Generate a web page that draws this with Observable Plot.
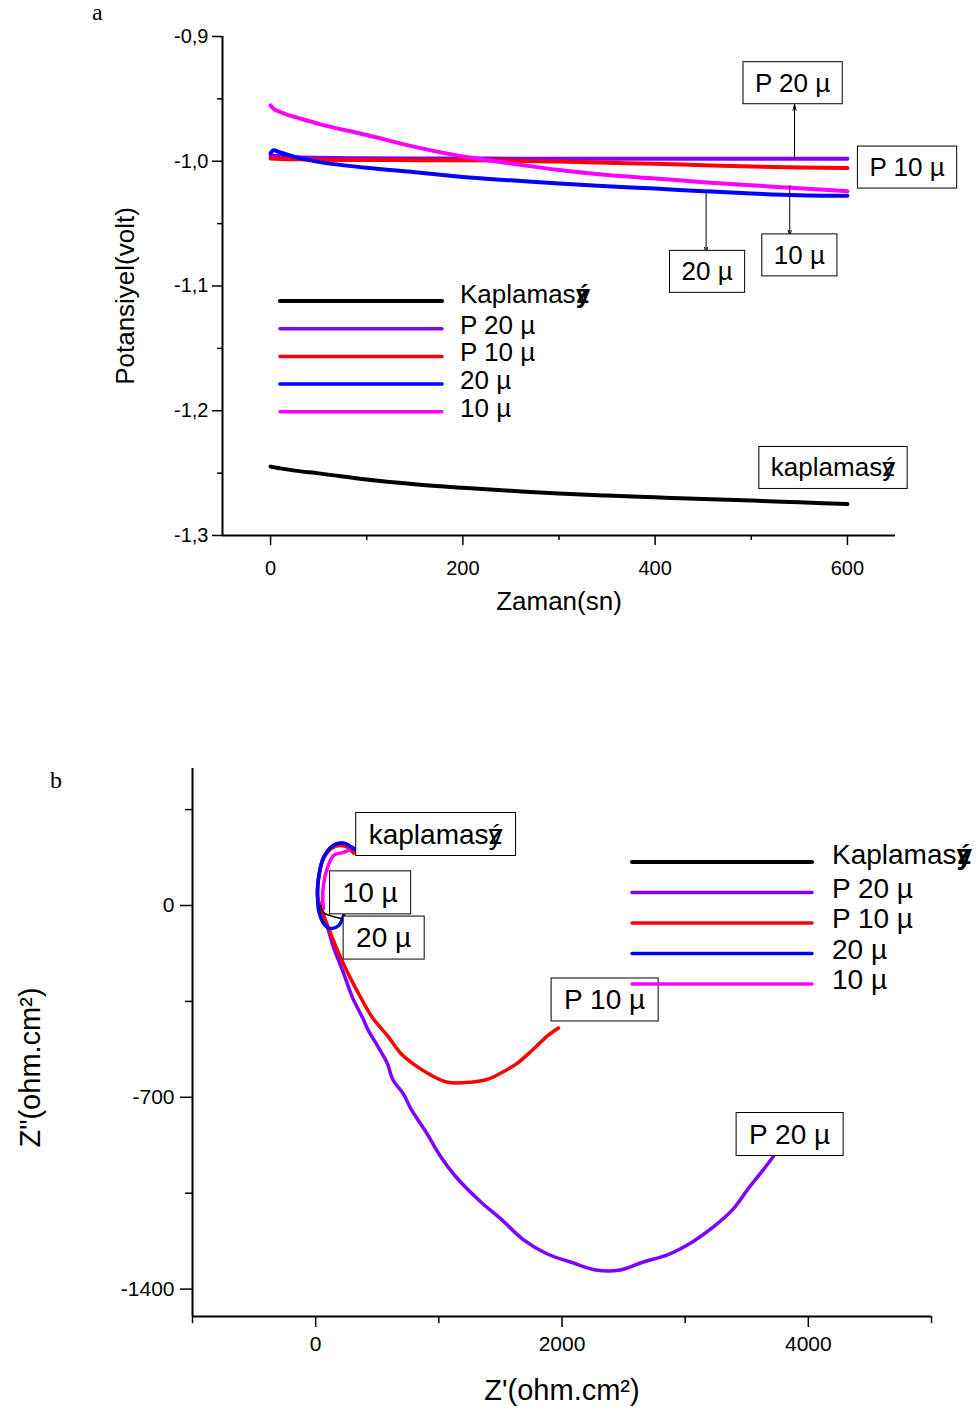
<!DOCTYPE html>
<html><head><meta charset="utf-8">
<script src="https://cdn.jsdelivr.net/npm/d3@7"></script>
<script src="https://cdn.jsdelivr.net/npm/@observablehq/plot@0.6"></script>
<style>
html,body{margin:0;padding:0;background:#fff;overflow:hidden;}
#wrap{position:relative;width:980px;height:1409px;overflow:hidden;background:#fff;}
#wrap svg{position:absolute;left:0;}
</style></head><body><div id="wrap"></div>
<script>
const FONT = "'Liberation Sans', Arial, Helvetica, sans-serif";

// ---------- Panel a: open-circuit potential vs time ----------
const tSec = [0, 3, 10, 25, 50, 100, 150, 200, 250, 300, 350, 400, 450, 500, 550, 600];
const potKaplamasiz = [-1.2448, -1.2452, -1.2462, -1.2480, -1.2502, -1.2552, -1.2590, -1.2618, -1.2642, -1.2664, -1.2680, -1.2694, -1.2708, -1.2720, -1.2734, -1.2748];
const potP20 = [-0.9955, -0.9955, -0.9960, -0.9968, -0.9972, -0.9976, -0.9978, -0.9978, -0.9979, -0.9979, -0.9979, -0.9980, -0.9980, -0.9980, -0.9980, -0.9980];
const potP10 = [-0.9978, -0.9979, -0.9981, -0.9984, -0.9988, -0.9990, -0.9991, -0.9992, -0.9995, -1.0003, -1.0012, -1.0020, -1.0032, -1.0042, -1.0050, -1.0055];
const pot20 = [-0.9935, -0.9912, -0.9930, -0.9965, -1.0005, -1.0052, -1.0088, -1.0126, -1.0153, -1.0179, -1.0200, -1.0219, -1.0240, -1.0259, -1.0272, -1.0277];
const pot10 = [-0.9552, -0.9578, -0.9605, -0.9645, -0.9700, -0.9790, -0.9885, -0.9962, -1.0018, -1.0070, -1.0110, -1.0138, -1.0168, -1.0193, -1.0216, -1.0240];

const xTicksA = [0, 200, 400, 600];
const xMinorA = [100, 300, 500];
const yTicksA = [-0.9, -1.0, -1.1, -1.2, -1.3];
const yMinorA = [-0.95, -1.05, -1.15, -1.25];

const annLabelsA = ["P 20 µ", "P 10 µ", "20 µ", "10 µ", "kaplamasý"];
const annTA = [543, 662, 454, 550, 585];
const annVA = [-0.9376, -1.0052, -1.0888, -1.0756, -1.246];
const arrowT = [545, 453, 540];
const arrowFrom = [-0.9980, -1.0246, -1.0195];
const arrowTo = [-0.9545, -1.0736, -1.0600];

// ---------- Panel b: Nyquist ----------
const zreP20 = [308, 227, 146, 65, 24, 16, 41, 97, 146, 219, 300, 381, 422, 527, 584, 625, 714, 771, 892, 1014, 1136, 1339, 1501, 1688, 1882, 2069, 2272, 2475, 2661, 2856, 3059, 3221, 3391, 3513, 3635, 3716];
const zimP20 = [209, 227, 220, 176, 103, 29, -7, -81, -154, -238, -337, -410, -451, -531, -579, -634, -689, -740, -824, -916, -989, -1081, -1143, -1220, -1272, -1301, -1330, -1330, -1301, -1275, -1228, -1176, -1107, -1033, -964, -916];
const zreP10 = [308, 243, 146, 65, 24, 16, 57, 122, 203, 284, 349, 462, 584, 690, 795, 909, 1071, 1258, 1396, 1501, 1639, 1769, 1882, 1972];
const zimP10 = [191, 216, 213, 172, 99, 29, -26, -103, -191, -267, -322, -410, -476, -539, -579, -612, -645, -645, -634, -612, -575, -524, -476, -447];
const zre20 = [325, 227, 146, 65, 24, 16, 24, 65, 122, 187, 227];
const zim20 = [202, 227, 220, 176, 103, 29, -18, -66, -84, -73, -37];
const zre10 = [268, 227, 146, 97, 65, 57, 65];
const zim10 = [202, 194, 183, 139, 81, 18, -11];
const zreKap = [41, 65, 140, 219];
const zimKap = [0, -26, -40, -48];

const xTicksB = [0, 2000, 4000];
const xMinorB = [-1000, 1000, 3000, 5000];
const yTicksB = [0, -700, -1400];
const yMinorB = [350, -350, -1050];

const annLabelsB = ["kaplamasý", "10 µ", "20 µ", "P 10 µ", "P 20 µ"];
const annXB = [974, 442, 552, 2346, 3848];
const annYB = [259, 46, -119, -345, -836];

// ---------- legend ----------
const seriesNames = ["Kaplamasý", "P 20 µ", "P 10 µ", "20 µ", "10 µ"];
const seriesColors = ["#000000", "#7f00ff", "#ff0000", "#0000ff", "#ff00ff"];

// build tables
const potSeries = [potKaplamasiz, potP20, potP10, pot20, pot10];
const rowsA = potSeries.map(vs => tSec.map((t, i) => ({t, v: vs[i]})));
const nyq = [[zreKap, zimKap], [zreP20, zimP20], [zreP10, zimP10], [zre20, zim20], [zre10, zim10]];
const rowsB = nyq.map(([xs, ys]) => xs.map((x, i) => ({x, y: ys[i]})));
const annA = annLabelsA.map((label, i) => ({label, t: annTA[i], v: annVA[i]}));
const arrA = arrowT.map((t, i) => ({t, v1: arrowFrom[i], v2: arrowTo[i]}));
const annB = annLabelsB.map((label, i) => ({label, x: annXB[i], y: annYB[i]}));

const wrap = document.getElementById("wrap");

function boxTexts(svg, padX, padY) {
  svg.querySelectorAll('g[aria-description="boxed"] text').forEach(t => {
    const b = t.getBBox();
    const r = document.createElementNS("http://www.w3.org/2000/svg", "rect");
    r.setAttribute("x", b.x - padX);
    r.setAttribute("y", b.y - padY);
    r.setAttribute("width", b.width + 2 * padX);
    r.setAttribute("height", b.height + 2 * padY);
    const tr = t.getAttribute("transform");
    if (tr) r.setAttribute("transform", tr);
    r.setAttribute("fill", "#fff");
    r.setAttribute("stroke", "#000");
    r.setAttribute("stroke-width", "1");
    t.parentNode.insertBefore(r, t);
    if (t.textContent.endsWith("ý")) {
      const sp = document.createElementNS("http://www.w3.org/2000/svg", "tspan");
      sp.setAttribute("dx", "-0.5em");
      sp.textContent = "z";
      t.appendChild(sp);
    }
  });
}

// draw order for panel a: black, purple, red, blue, magenta
const linesA = [0, 1, 2, 3, 4].map(i => Plot.line(rowsA[i], {x: "t", y: "v", stroke: seriesColors[i], strokeWidth: 4, curve: "monotone-x"}));

const plotA = Plot.plot({
  width: 980, height: 650,
  marginLeft: 222, marginRight: 85, marginTop: 36, marginBottom: 115,
  x: {domain: [-50, 650], label: null},
  y: {domain: [-1.3, -0.9], label: null},
  style: {fontFamily: FONT, color: "#000", background: "transparent", overflow: "visible"},
  marks: [
    Plot.axisX({ticks: xTicksA, tickSize: 10, tickPadding: 15, fontSize: 20, strokeWidth: 1.5, label: null, tickFormat: d => String(d)}),
    Plot.axisX({ticks: xMinorA, tickSize: 5, tickFormat: () => "", strokeWidth: 1.5, label: null}),
    Plot.axisY({ticks: yTicksA, tickSize: 10, tickPadding: 4, fontSize: 20, strokeWidth: 1.5, label: null,
      tickFormat: d => d.toFixed(1).replace(".", ",")}),
    Plot.axisY({ticks: yMinorA, tickSize: 5, tickFormat: () => "", strokeWidth: 1.5, label: null}),
    Plot.ruleX([-50], {strokeWidth: 2}),
    Plot.ruleY([-1.3], {strokeWidth: 2}),
    ...linesA,
    Plot.arrow(arrA, {x1: "t", x2: "t", y1: "v1", y2: "v2", stroke: "#000", strokeWidth: 1, headLength: 9, headAngle: 30}),
    Plot.text(annA, {x: "t", y: "v", text: "label", fontSize: 26, fill: "#000", ariaDescription: "boxed"}),
    Plot.text(["Zaman(sn)"], {text: d => d, frameAnchor: "bottom", textAnchor: "middle", dy: 74, fontSize: 26}),
    Plot.text(["Potansiyel(volt)"], {text: d => d, frameAnchor: "left", textAnchor: "middle", rotate: -90, dx: -97, dy: 10, fontSize: 26})
  ]
});
plotA.style.top = "0px";
wrap.appendChild(plotA);
boxTexts(plotA, 12, 6);

// draw order for panel b: purple, red, blue, magenta, black
const linesB = [1, 2, 3, 4, 0].map(i => Plot.line(rowsB[i], {x: "x", y: "y", stroke: seriesColors[i], strokeWidth: i === 0 ? 1.5 : 3.5, curve: "catmull-rom"}));

const plotB = Plot.plot({
  width: 980, height: 759,
  marginLeft: 192, marginRight: 49, marginTop: 118, marginBottom: 93,
  x: {domain: [-1000, 5000], label: null},
  y: {domain: [-1500, 500], label: null},
  style: {fontFamily: FONT, color: "#000", background: "transparent", overflow: "visible"},
  marks: [
    Plot.axisX({ticks: xTicksB, tickSize: 11, tickPadding: 9, fontSize: 21, strokeWidth: 1.5, label: null, tickFormat: d => String(d)}),
    Plot.axisX({ticks: xMinorB, tickSize: 7, tickFormat: () => "", strokeWidth: 1.5, label: null}),
    Plot.axisY({ticks: yTicksB, tickSize: 12, tickPadding: 6, fontSize: 21, strokeWidth: 1.5, label: null, tickFormat: d => String(d)}),
    Plot.axisY({ticks: yMinorB, tickSize: 7, tickFormat: () => "", strokeWidth: 1.5, label: null}),
    Plot.ruleX([-1000], {strokeWidth: 2}),
    Plot.ruleY([-1500], {strokeWidth: 2}),
    ...linesB,
    Plot.text(annB, {x: "x", y: "y", text: "label", fontSize: 28, fill: "#000", ariaDescription: "boxed"}),
    Plot.text(["Z'(ohm.cm²)"], {text: d => d, frameAnchor: "bottom", textAnchor: "middle", dy: 83, fontSize: 29}),
    Plot.text(["Z\"(ohm.cm²)"], {text: d => d, frameAnchor: "left", textAnchor: "middle", rotate: -90, dx: -162, dy: 25, fontSize: 29})
  ]
});
plotB.style.top = "650px";
wrap.appendChild(plotB);
boxTexts(plotB, 13, 6);

// ---------- overlay: panel tags and legends ----------
const ov = d3.select(wrap).append("svg")
  .attr("width", 980).attr("height", 1409)
  .style("top", "0px").style("pointer-events", "none");

ov.append("text").attr("x", 92).attr("y", 20).attr("font-family", "'Liberation Serif', 'Times New Roman', serif").attr("font-size", 24).text("a");
ov.append("text").attr("x", 50).attr("y", 788).attr("font-family", "'Liberation Serif', 'Times New Roman', serif").attr("font-size", 24).text("b");

function legend(x0, x1, y0, step, lx, fs, base) {
  seriesNames.forEach((name, i) => {
    const y = y0 + i * step;
    ov.append("line").attr("x1", x0).attr("x2", x1).attr("y1", y).attr("y2", y)
      .attr("stroke", seriesColors[i]).attr("stroke-width", i === 0 ? 4 : 3.5).attr("stroke-linecap", "round");
    const t = ov.append("text").attr("x", lx).attr("y", y + base + (i === 0 ? -3 : 0))
      .attr("font-family", FONT).attr("font-size", fs).attr("fill", "#000");
    if (name.endsWith("ý")) {
      t.append("tspan").text(name.slice(0, -1));
      t.append("tspan").attr("font-weight", "bold").text("ý");
      t.append("tspan").attr("font-weight", "bold").attr("dx", "-0.53em").text("z");
    } else {
      t.text(name);
    }
  });
}
legend(280, 442, 301, 27.7, 460, 26, 5);
legend(632, 812, 862, 30.5, 832, 28, 5);
</script></body></html>
